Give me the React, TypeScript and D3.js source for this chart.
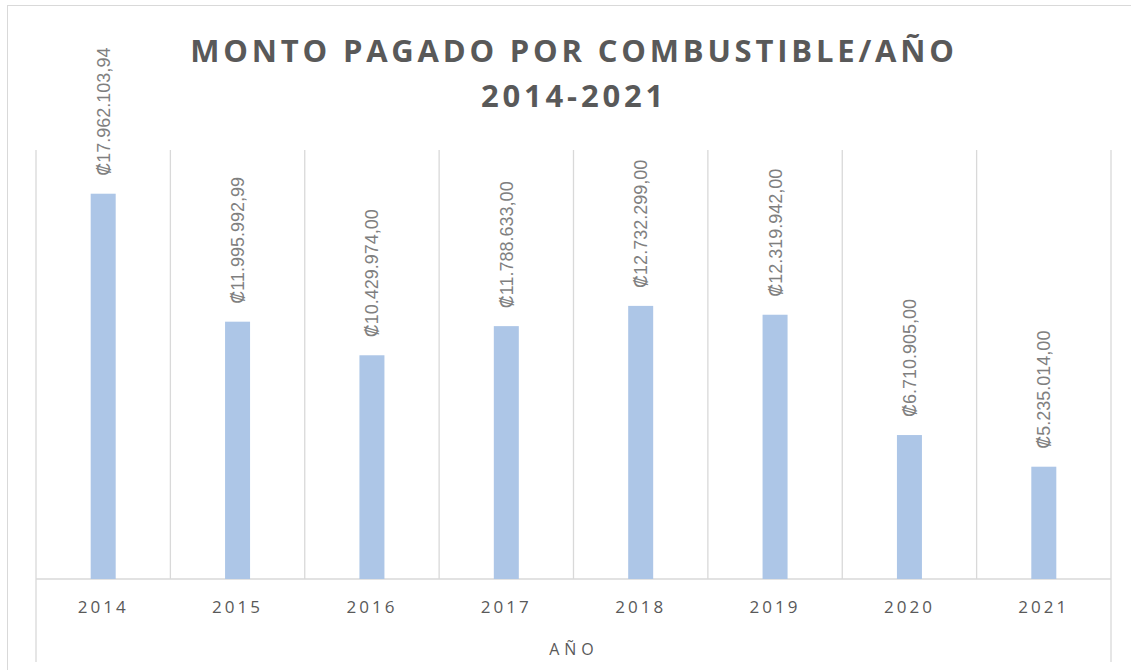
import React from "react";
import * as d3 from "d3";

const years = ["2014", "2015", "2016", "2017", "2018", "2019", "2020", "2021"];
const montos = [17962103.94, 11995992.99, 10429974.0, 11788633.0, 12732299.0, 12319942.0, 6710905.0, 5235014.0];
const labels = [
  "₡17.962.103,94",
  "₡11.995.992,99",
  "₡10.429.974,00",
  "₡11.788.633,00",
  "₡12.732.299,00",
  "₡12.319.942,00",
  "₡6.710.905,00",
  "₡5.235.014,00",
];
const titleLines = ["MONTO PAGADO POR COMBUSTIBLE/AÑO", "2014-2021"];
const axisTitle = "AÑO";

const W = 1131;
const H = 670;
const left = 36;
const right = 1111;
const top = 150;
const bottom = 579;

export default function App() {
  const x = d3.scaleBand<string>().domain(years).range([left, right]).paddingInner(0).paddingOuter(0);
  const y = d3.scaleLinear().domain([0, 20000000]).range([bottom, top]);
  const bw = 25;
  const font = "'Open Sans', 'Noto Sans', sans-serif";
  const boundaries = d3.range(years.length + 1).map((i) => left + i * x.bandwidth());
  return (
    <svg width={W} height={H} style={{ position: "absolute", left: 0, top: 0, background: "#fff" }}>
      <rect x={7.5} y={5.5} width={1150} height={700} fill="none" stroke="#d9d9d9" strokeWidth={1} />
      {boundaries.map((bx, i) => (
        <line
          key={i}
          x1={bx}
          x2={bx}
          y1={top}
          y2={i === 0 || i === years.length ? 662 : bottom}
          stroke="#d9d9d9"
          strokeWidth={1.3}
        />
      ))}
      <line x1={left} x2={right} y1={bottom} y2={bottom} stroke="#d9d9d9" strokeWidth={1.3} />
      {years.map((yr, i) => {
        const cx = (x(yr) as number) + x.bandwidth() / 2;
        const yt = y(montos[i]);
        return (
          <g key={yr}>
            <rect x={cx - bw / 2} y={yt} width={bw} height={bottom - yt} fill="#adc6e7" />
            <text
              transform={`translate(${cx + 6.5},${yt - 18}) rotate(-90)`}
              fontFamily="'Liberation Sans', Arial, sans-serif"
              fontSize={18}
              fill="#7f7f7f"
            >
              {labels[i]}
            </text>
            <text
              x={cx}
              y={613}
              textAnchor="middle"
              fontFamily={font}
              fontSize={17}
              letterSpacing={3}
              fill="#595959"
            >
              {yr}
            </text>
          </g>
        );
      })}
      {titleLines.map((t, i) => (
        <text
          key={i}
          x={574}
          y={62 + i * 45}
          textAnchor="middle"
          fontFamily={font}
          fontWeight="bold"
          fontSize={31}
          letterSpacing={3.8}
          fill="#595959"
        >
          {t}
        </text>
      ))}
      <text x={574} y={655} textAnchor="middle" fontFamily={font} fontSize={16} letterSpacing={5} fill="#595959">
        {axisTitle}
      </text>
    </svg>
  );
}
